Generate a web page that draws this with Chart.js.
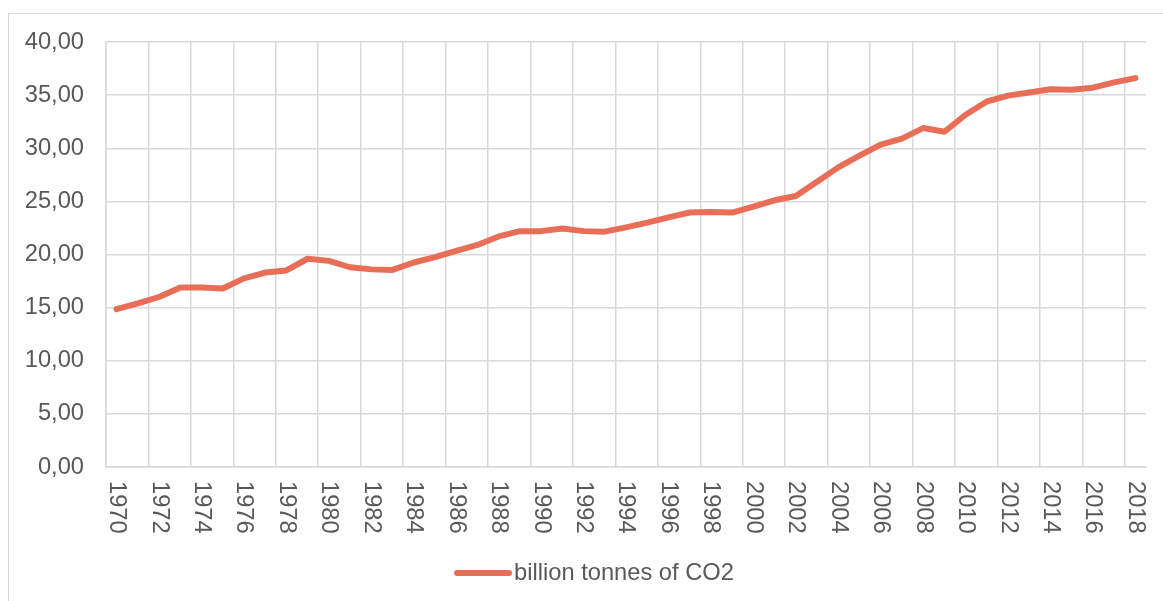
<!DOCTYPE html>
<html>
<head>
<meta charset="utf-8">
<script src="https://cdn.jsdelivr.net/npm/chart.js@4"></script>
<style>
  html, body { margin: 0; padding: 0; background: #ffffff; overflow: hidden; }
  #wrap { position: relative; width: 1163px; height: 601px; }
  #frame { position: absolute; left: 8px; top: 13px; width: 1300px; height: 700px;
           border: 1px solid #d9d9d9; box-sizing: border-box; }
  canvas { position: absolute; left: 0; top: 0; }
</style>
</head>
<body>
<div id="wrap">
  <div id="frame"></div>
  <canvas id="c" width="1163" height="601"></canvas>
</div>
<script>
// Global CO2 emissions, billion tonnes per year
const years = [
  1970, 1971, 1972, 1973, 1974, 1975, 1976, 1977, 1978, 1979,
  1980, 1981, 1982, 1983, 1984, 1985, 1986, 1987, 1988, 1989,
  1990, 1991, 1992, 1993, 1994, 1995, 1996, 1997, 1998, 1999,
  2000, 2001, 2002, 2003, 2004, 2005, 2006, 2007, 2008, 2009,
  2010, 2011, 2012, 2013, 2014, 2015, 2016, 2017, 2018
];
const emissions = [
  14.85, 15.40, 16.00, 16.90, 16.90, 16.80, 17.75, 18.30, 18.50, 19.60,
  19.40, 18.80, 18.60, 18.55, 19.25, 19.75, 20.35, 20.90, 21.70, 22.20,
  22.20, 22.45, 22.20, 22.15, 22.55, 23.00, 23.50, 23.95, 24.00, 23.95,
  24.50, 25.10, 25.50, 26.85, 28.20, 29.30, 30.35, 30.90, 31.90, 31.55,
  33.15, 34.40, 34.95, 35.25, 35.55, 35.50, 35.70, 36.20, 36.60
];
const seriesName = 'billion tonnes of CO2';
const yMin = 0, yMax = 40, yStep = 5;
const xLabelEvery = 2;

const FONT = '"Liberation Sans", Arial, sans-serif';
const FONT_SIZE = 23.7;
const TEXT = '#595959';
const GRID = '#d9d9d9';
const LINE = '#E96E57';

// Vertical year labels reading top to bottom, plus the legend row
const extras = {
  id: 'extras',
  afterDraw(chart) {
    const ctx = chart.ctx;
    const x = chart.scales.x;
    ctx.save();
    ctx.fillStyle = TEXT;
    ctx.font = FONT_SIZE + 'px ' + FONT;
    ctx.textAlign = 'left';
    ctx.textBaseline = 'middle';
    const top = chart.chartArea.bottom + 14;
    years.forEach((yr, i) => {
      if (i % xLabelEvery !== 0) return;
      const px = x.getPixelForTick(i);
      ctx.save();
      ctx.translate(px, top);
      ctx.rotate(Math.PI / 2);
      ctx.fillText(String(yr), 0, 0);
      ctx.restore();
    });

    // legend
    const ly = 573;
    ctx.strokeStyle = LINE;
    ctx.lineWidth = 6;
    ctx.lineCap = 'round';
    ctx.beginPath();
    ctx.moveTo(457, ly);
    ctx.lineTo(509, ly);
    ctx.stroke();
    ctx.fillText(seriesName, 514, ly);
    ctx.restore();
  }
};

new Chart(document.getElementById('c'), {
  type: 'line',
  data: {
    labels: years.map(String),
    datasets: [{
      label: seriesName,
      data: emissions,
      borderColor: LINE,
      backgroundColor: LINE,
      borderWidth: 6,
      borderCapStyle: 'round',
      borderJoinStyle: 'round',
      pointRadius: 0,
      pointHoverRadius: 0,
      tension: 0,
      fill: false
    }]
  },
  options: {
    responsive: false,
    devicePixelRatio: 1,
    animation: false,
    events: [],
    layout: { padding: { left: 0, top: 42, right: 17, bottom: 0 } },
    plugins: {
      legend: { display: false },
      tooltip: { enabled: false }
    },
    scales: {
      x: {
        type: 'category',
        offset: true,
        afterFit(scale) { scale.height = 134; },
        grid: {
          offset: true,
          drawTicks: false,
          lineWidth: 1.5,
          color: (c) => (c.index % xLabelEvery === 0 ? GRID : 'rgba(0,0,0,0)')
        },
        border: { display: true, color: GRID, width: 1.5 },
        ticks: { display: false, autoSkip: false }
      },
      y: {
        min: yMin,
        max: yMax,
        afterFit(scale) { scale.width = 106; },
        grid: { color: GRID, lineWidth: 1.5, drawTicks: false },
        border: { display: true, color: GRID, width: 1.5 },
        ticks: {
          stepSize: yStep,
          padding: 22,
          color: TEXT,
          font: { family: FONT, size: FONT_SIZE },
          callback: (v) => Number(v).toFixed(2).replace('.', ',')
        }
      }
    }
  },
  plugins: [extras]
});
</script>
</body>
</html>
